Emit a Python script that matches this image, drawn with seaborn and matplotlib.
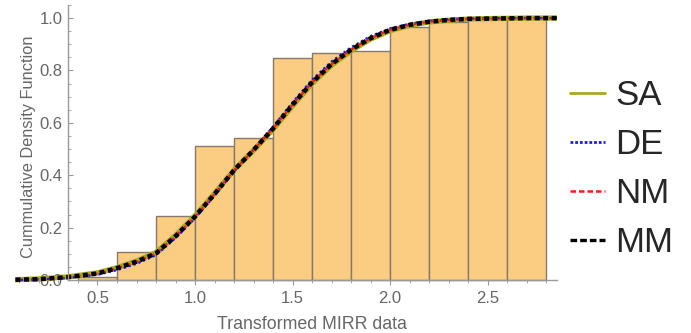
import numpy as np
import seaborn as sns
import matplotlib.pyplot as plt
from matplotlib.lines import Line2D
from matplotlib.ticker import MultipleLocator, FormatStrFormatter

# histogram (empirical CDF of the transformed MIRR data)
bin_edges = [0.4, 0.6, 0.8, 1.0, 1.2, 1.4, 1.6, 1.8, 2.0, 2.2, 2.4, 2.6, 2.8]
bin_heights = [0.012, 0.107, 0.245, 0.511, 0.543, 0.847, 0.865, 0.876, 0.966, 0.985, 0.995, 1.0]

# fitted CDF curves
x_curve = [0.08, 0.2, 0.35, 0.5, 0.6, 0.7, 0.8, 0.9, 1.0, 1.1, 1.2, 1.3, 1.4,
           1.5, 1.6, 1.7, 1.8, 1.9, 2.0, 2.1, 2.2, 2.3, 2.4, 2.5, 2.6, 2.7, 2.86]
sa = [0.001, 0.004, 0.012, 0.027, 0.047, 0.072, 0.105, 0.170, 0.245, 0.330, 0.420, 0.495, 0.575,
      0.665, 0.750, 0.820, 0.875, 0.920, 0.952, 0.972, 0.985, 0.992, 0.996, 0.998, 0.999, 1.0, 1.0]
de = [0.000, 0.002, 0.008, 0.020, 0.038, 0.062, 0.095, 0.160, 0.236, 0.322, 0.415, 0.497, 0.585,
      0.678, 0.764, 0.834, 0.888, 0.931, 0.960, 0.978, 0.989, 0.995, 0.998, 0.999, 1.0, 1.0, 1.0]
nm = [0.001, 0.003, 0.011, 0.025, 0.045, 0.070, 0.102, 0.167, 0.242, 0.328, 0.419, 0.496, 0.578,
      0.669, 0.754, 0.824, 0.879, 0.923, 0.955, 0.974, 0.986, 0.993, 0.997, 0.998, 0.999, 1.0, 1.0]
mm = [0.001, 0.003, 0.011, 0.025, 0.045, 0.070, 0.102, 0.167, 0.242, 0.328, 0.419, 0.496, 0.578,
      0.669, 0.754, 0.824, 0.879, 0.923, 0.955, 0.974, 0.986, 0.993, 0.997, 0.998, 0.999, 1.0, 1.0]

sns.set_style("white")
plt.rcParams['font.family'] = ['Liberation Sans', 'DejaVu Sans']

W, H = 691, 333
fig = plt.figure(figsize=(W / 100, H / 100), dpi=100)
ax = fig.add_axes([15 / W, (H - 282.6) / H, 542 / W, 277.6 / H])

centers = (np.array(bin_edges[:-1]) + np.array(bin_edges[1:])) / 2
sns.histplot(x=centers, weights=bin_heights, bins=bin_edges, stat='count',
             color='#fbcd82', alpha=1, edgecolor='#86796a', linewidth=1, ax=ax)

sns.lineplot(x=x_curve, y=sa, color='#a9a91c', lw=3.8, ax=ax, sort=False)
sns.lineplot(x=x_curve, y=de, color='#1a1aff', lw=1.7, ls=(0, (1, 1.2)), ax=ax, sort=False)
sns.lineplot(x=x_curve, y=nm, color='#ff1a1a', lw=1.5, ls=(0, (2.5, 1.6)), ax=ax, sort=False)
sns.lineplot(x=x_curve, y=mm, color='black', lw=3.2, ls=(0, (1.1, 0.8)), ax=ax, sort=False)

ax.set_xlim(0.077, 2.856)
ax.set_ylim(-0.01, 1.05)

for s in ['top', 'right']:
    ax.spines[s].set_visible(False)
ax.spines['left'].set_position(('data', 0.35))
ax.spines['bottom'].set_position(('data', 0))
ax.spines['left'].set_bounds(0, 1.05)
ax.spines['bottom'].set_bounds(0.35, 2.856)
for s in ['left', 'bottom']:
    ax.spines[s].set_color('#9a9a9a')
    ax.spines[s].set_linewidth(1.0)

ax.xaxis.set_major_locator(MultipleLocator(0.5))
ax.xaxis.set_minor_locator(MultipleLocator(0.1))
ax.yaxis.set_major_locator(MultipleLocator(0.2))
ax.yaxis.set_minor_locator(MultipleLocator(0.05))
ax.xaxis.set_major_formatter(FormatStrFormatter('%.1f'))
ax.yaxis.set_major_formatter(FormatStrFormatter('%.1f'))
ax.tick_params(axis='x', which='major', direction='out', length=3.5, width=0.8,
               color='#9a9a9a', labelsize=12, labelcolor='#666666', pad=4.5, bottom=True)
ax.tick_params(axis='x', which='minor', direction='out', length=2, width=0.6,
               color='#9a9a9a', bottom=True)
ax.tick_params(axis='y', which='major', direction='in', length=3.5, width=0.8,
               color='#9a9a9a', labelsize=12, labelcolor='#666666', pad=4, left=True)
ax.tick_params(axis='y', which='minor', direction='in', length=2, width=0.6,
               color='#9a9a9a', left=True)
ax.set_xticks([t for t in ax.get_xticks() if 0.4 < t < 2.8])

ax.set_xlabel('Transformed MIRR data', fontsize=12.8, color='#666666')
ax.set_ylabel('Cummulative Density Function', fontsize=11.8, color='#666666')
ax.xaxis.set_label_coords((312 - 15) / 542, -0.12)
ax.yaxis.set_label_coords(0.038, (282.6 - 147) / 277.6)

handles = [
    Line2D([], [], color='#a9a91c', lw=2.0),
    Line2D([], [], color='#1a1aff', lw=2.0, ls=(0, (1, 0.7))),
    Line2D([], [], color='#ff1a1a', lw=1.8, ls=(0, (2.2, 1.2))),
    Line2D([], [], color='black', lw=2.4, ls=(0, (2.0, 0.9))),
]
fig.legend(handles, ['SA', 'DE', 'NM', 'MM'], loc='center left',
           bbox_to_anchor=(570 / W, 1 - 169 / H), frameon=False, fontsize=25,
           handlelength=1.0, handletextpad=0.3, labelspacing=0.46,
           borderpad=0, borderaxespad=0)

fig.savefig('out.png', dpi=100)
